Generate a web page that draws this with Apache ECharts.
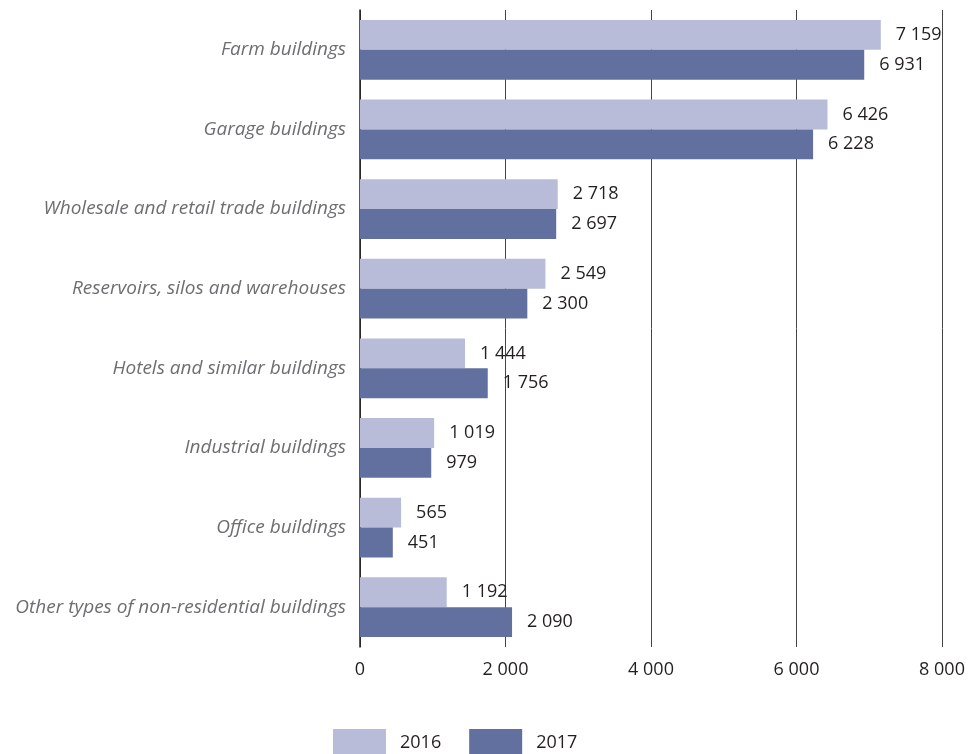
<!DOCTYPE html>
<html>
<head>
<meta charset="utf-8">
<script src="https://cdn.jsdelivr.net/npm/echarts@6/dist/echarts.min.js"></script>
<style>
html,body{margin:0;padding:0;background:#fff;}
#chart{width:971px;height:754px;}
</style>
</head>
<body>
<div id="chart"></div>
<script>
const categories = [
  "Farm buildings",
  "Garage buildings",
  "Wholesale and retail trade buildings",
  "Reservoirs, silos and warehouses",
  "Hotels and similar buildings",
  "Industrial buildings",
  "Office buildings",
  "Other types of non-residential buildings"
];
const values2016 = [7159, 6426, 2718, 2549, 1444, 1019, 565, 1192];
const values2017 = [6931, 6228, 2697, 2300, 1756, 979, 451, 2090];
const seriesNames = ["2016", "2017"];
const xTicks = [0, 2000, 4000, 6000, 8000];

function fmt(v){ return String(v).replace(/\B(?=(\d{3})+(?!\d))/g, ' '); }

const font = "'Open Sans', 'Noto Sans', sans-serif";
const chart = echarts.init(document.getElementById('chart'));
const labelCfg = {
  show: true, position: 'right', distance: 15,
  formatter: p => fmt(p.value),
  color: '#231f20', fontSize: 18, fontFamily: font
};
chart.setOption({
  animation: false,
  grid: { left: 360, right: 29, top: 10, bottom: 107, containLabel: false },
  legend: {
    data: seriesNames, bottom: -8, left: 328,
    itemWidth: 53, itemHeight: 28, itemGap: 28,
    icon: 'rect',
    textStyle: { color: '#231f20', fontSize: 18, fontFamily: font, padding: [6,0,0,9] }
  },
  xAxis: {
    type: 'value', min: xTicks[0], max: xTicks[xTicks.length-1], interval: 2000,
    axisLine: { show: false }, axisTick: { show: false },
    splitLine: { show: true, lineStyle: { color: '#444', width: 1 } },
    axisLabel: { formatter: v => fmt(v), color: '#231f20', fontSize: 18, fontFamily: font, margin: 14 }
  },
  yAxis: {
    type: 'category', data: categories, inverse: true,
    axisLine: { show: true, lineStyle: { color: '#231f20', width: 1.5 } },
    axisTick: { show: false },
    axisLabel: { color: '#6d6e71', fontSize: 19, fontStyle: 'italic', fontFamily: font, margin: 14 }
  },
  series: [
    { name: seriesNames[0], type: 'bar', data: values2016, barGap: '0%', barCategoryGap: '25%',
      itemStyle: { color: '#b8bcd8' }, label: labelCfg, z: 3 },
    { name: seriesNames[1], type: 'bar', data: values2017, barGap: '0%', barCategoryGap: '25%',
      itemStyle: { color: '#6270a0' }, label: labelCfg, z: 3 }
  ]
});
</script>
</body>
</html>
